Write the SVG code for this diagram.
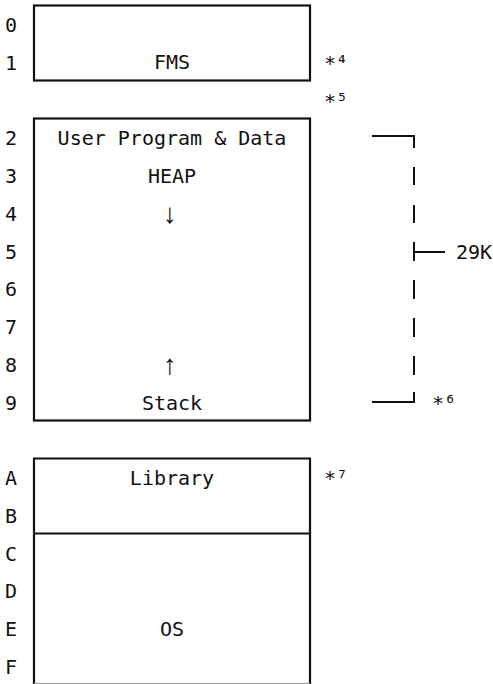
<svg xmlns="http://www.w3.org/2000/svg" width="493" height="684" viewBox="0 0 493 684">
  <style>
    text { font-family: "DejaVu Sans Mono", "Liberation Mono", monospace; font-size: 20px; fill: #111; }
    .c { text-anchor: middle; }
    .arr { font-family: "Liberation Sans", "DejaVu Sans", sans-serif; font-size: 28px; }
    .box { fill: none; stroke: #111; stroke-width: 2.2; }
    .ln { stroke: #111; stroke-width: 2; fill: none; }
  </style>
  <rect width="493" height="684" fill="#fff"/>

  <g id="row-labels">
    <text class="c" x="11" y="32">0</text>
    <text class="c" x="11" y="69.75">1</text>
    <text class="c" x="11" y="145.25">2</text>
    <text class="c" x="11" y="183">3</text>
    <text class="c" x="11" y="220.75">4</text>
    <text class="c" x="11" y="258.5">5</text>
    <text class="c" x="11" y="296.25">6</text>
    <text class="c" x="11" y="334">7</text>
    <text class="c" x="11" y="371.75">8</text>
    <text class="c" x="11" y="409.5">9</text>
    <text class="c" x="11" y="485">A</text>
    <text class="c" x="11" y="522.75">B</text>
    <text class="c" x="11" y="560.5">C</text>
    <text class="c" x="11" y="598.25">D</text>
    <text class="c" x="11" y="636">E</text>
    <text class="c" x="11" y="673.75">F</text>
  </g>

  <g id="fms">
    <rect class="box" x="34" y="5.5" width="276" height="75"/>
    <text class="c" x="172" y="69">FMS</text>
  </g>

  <g id="user-program">
    <rect class="box" x="34" y="118.5" width="276" height="302"/>
    <text class="c" x="172" y="145.25">User Program &amp; Data</text>
    <text class="c" x="172" y="183">HEAP</text>
    <text class="c arr" x="170" y="223">↓</text>
    <text class="c arr" x="170" y="374">↑</text>
    <text class="c" x="172" y="409.5">Stack</text>
  </g>

  <g id="library">
    <path class="box" d="M34,533.5 V458.5 H310 V533.5"/>
    <text class="c" x="172" y="485">Library</text>
  </g>

  <g id="os">
    <path class="box" d="M34,533.5 H310 V684 M34,533.5 V684"/>
    <line x1="34" y1="683.5" x2="310" y2="683.5" stroke="#999" stroke-width="1"/>
    <text class="c" x="172" y="636">OS</text>
  </g>

  <g id="notes">
    <text x="324" y="69.75">*⁴</text>
    <text x="324" y="107.5">*⁵</text>
    <text x="432" y="409.5">*⁶</text>
    <text x="324" y="485">*⁷</text>
  </g>

  <g id="connectors">
    <path class="ln" d="M372,136 H414 V148"/>
    <line class="ln" x1="414" y1="167" x2="414" y2="185"/>
    <line class="ln" x1="414" y1="205" x2="414" y2="223"/>
    <line class="ln" x1="414" y1="242" x2="414" y2="261"/>
    <line class="ln" x1="414" y1="252" x2="445" y2="252"/>
    <line class="ln" x1="414" y1="280" x2="414" y2="299"/>
    <line class="ln" x1="414" y1="318" x2="414" y2="337"/>
    <line class="ln" x1="414" y1="356" x2="414" y2="375"/>
    <path class="ln" d="M414,392 V402 H372"/>
    <text x="456" y="258.5">29K</text>
  </g>
</svg>
